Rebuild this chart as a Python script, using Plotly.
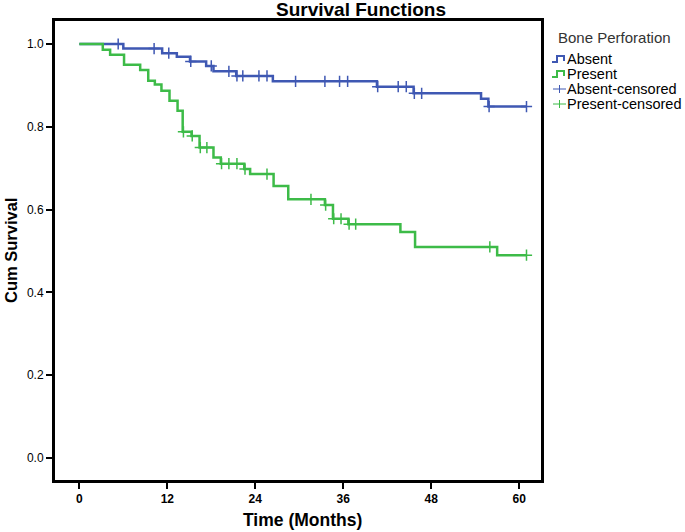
import numpy as np
import plotly.graph_objects as go

# Kaplan-Meier step data (time in months, cumulative survival)
absent_t = [0, 6.0, 11.3, 13.3, 15.1, 17.3, 18.3, 21.4, 26.4, 40.6, 45.6, 54.8, 55.8, 61.0]
absent_s = [1.0, 0.989, 0.978, 0.969, 0.958, 0.947, 0.934, 0.923, 0.910, 0.897, 0.881, 0.868, 0.849, 0.849]
absent_cens = [5.3, 10.2, 12.2, 15.2, 18.0, 20.4, 21.5, 22.3, 24.5, 25.6, 29.5, 33.5, 35.5, 36.6,
               40.7, 43.5, 44.6, 45.7, 46.7, 55.9, 61.0]

present_t = [0, 3.2, 4.2, 6.1, 8.3, 9.4, 10.3, 11.2, 12.3, 13.4, 14.1, 15.3, 16.4, 18.3, 19.3,
             22.5, 23.3, 26.5, 28.5, 33.5, 34.6, 36.7, 43.8, 45.8, 57.0, 61.0]
present_s = [1.0, 0.986, 0.974, 0.950, 0.937, 0.911, 0.902, 0.887, 0.863, 0.839, 0.788, 0.778,
             0.750, 0.726, 0.711, 0.698, 0.686, 0.657, 0.625, 0.611, 0.578, 0.565, 0.546, 0.510,
             0.490, 0.490]
present_cens = [14.2, 15.4, 16.5, 17.4, 19.4, 20.4, 21.5, 22.6, 25.6, 31.6, 33.6, 34.7, 35.7,
                36.8, 37.7, 56.0, 61.0]

x_ticks = [0, 12, 24, 36, 48, 60]
y_ticks = [0.0, 0.2, 0.4, 0.6, 0.8, 1.0]
legend_title = "Bone Perforation"
legend_labels = ["Absent", "Present", "Absent-censored", "Present-censored"]

BLUE = "#3f58b3"
GREEN = "#3dbb48"
FONT = "Liberation Sans, Arial, sans-serif"

# plot area in pixels
W, H = 685, 532
L, R, T, B = 55, 541, 21, 480


def px(xp):
    return (xp - L) / (R - L)


def py(yp):
    return (B - yp) / (B - T)


def step_at(ts, ss, q):
    idx = np.searchsorted(np.array(ts), np.array(q), side="right") - 1
    return [ss[i] for i in idx]


fig = go.Figure()
fig.add_trace(go.Scatter(x=absent_t, y=absent_s, mode="lines", line=dict(color=BLUE, width=2.5, shape="hv"),
                         name=legend_labels[0], showlegend=False))
fig.add_trace(go.Scatter(x=present_t, y=present_s, mode="lines", line=dict(color=GREEN, width=2.5, shape="hv"),
                         name=legend_labels[1], showlegend=False))
fig.add_trace(go.Scatter(x=absent_cens, y=step_at(absent_t, absent_s, absent_cens), mode="markers",
                         marker=dict(symbol="cross-thin", size=8, line=dict(color=BLUE, width=1.5)),
                         name=legend_labels[2], showlegend=False))
fig.add_trace(go.Scatter(x=present_cens, y=step_at(present_t, present_s, present_cens), mode="markers",
                         marker=dict(symbol="cross-thin", size=8, line=dict(color=GREEN, width=1.5)),
                         name=legend_labels[3], showlegend=False))

annotations = []
shapes = []
# title
annotations.append(dict(text="<b>Survival Functions</b>", xref="paper", yref="paper",
                        x=px(361), y=py(9), xanchor="center", yanchor="middle", showarrow=False,
                        font=dict(size=19, color="#000")))
# axis titles
annotations.append(dict(text="<b>Time (Months)</b>", xref="paper", yref="paper",
                        x=px(302), y=py(520), xanchor="center", yanchor="middle", showarrow=False,
                        font=dict(size=17.5, color="#000")))
annotations.append(dict(text="<b>Cum Survival</b>", xref="paper", yref="paper", textangle=-90,
                        x=px(11), y=py(251), xanchor="center", yanchor="middle", showarrow=False,
                        font=dict(size=16.5, color="#000")))
# legend
annotations.append(dict(text=legend_title, xref="paper", yref="paper", x=px(556), y=py(37),
                        xanchor="left", yanchor="middle", showarrow=False,
                        font=dict(size=15, color="#333")))
item_y = [59, 74, 89, 104]
item_col = [BLUE, GREEN, BLUE, GREEN]
for i, (lab, yy, col) in enumerate(zip(legend_labels, item_y, item_col)):
    annotations.append(dict(text=lab, xref="paper", yref="paper", x=px(565), y=py(yy),
                            xanchor="left", yanchor="middle", showarrow=False,
                            font=dict(size=14.5, color="#000")))
    if i < 2:
        path = (f"M {px(552)} {py(yy + 3)} L {px(557)} {py(yy + 3)} L {px(557)} {py(yy - 3)} "
                f"L {px(564)} {py(yy - 3)} L {px(564)} {py(yy + 2)}")
        shapes.append(dict(type="path", xref="paper", yref="paper", path=path,
                           line=dict(color=col, width=2)))
    else:
        shapes.append(dict(type="line", xref="paper", yref="paper", x0=px(553), x1=px(566),
                           y0=py(yy), y1=py(yy), line=dict(color=col, width=1)))
        shapes.append(dict(type="line", xref="paper", yref="paper", x0=px(559.5), x1=px(559.5),
                           y0=py(yy - 4), y1=py(yy + 4), line=dict(color=col, width=1)))

fig.update_layout(
    width=W, height=H,
    margin=dict(l=L, r=W - R, t=T, b=H - B, autoexpand=False),
    paper_bgcolor="white", plot_bgcolor="white",
    font=dict(family=FONT, color="#000"),
    showlegend=False,
    annotations=annotations,
    shapes=shapes,
)
fig.update_xaxes(range=[-3.32, 62.98], tickvals=x_ticks, ticktext=[str(v) for v in x_ticks],
                 showgrid=False, zeroline=False, showline=True, linecolor="#000", linewidth=3, mirror=True,
                 ticks="outside", ticklen=6, tickwidth=1.5, tickcolor="#000", automargin=False,
                 tickfont=dict(size=12, weight="bold"))
fig.update_yaxes(range=[-0.053, 1.0556], tickvals=y_ticks, ticktext=[f"{v:.1f}" for v in y_ticks],
                 showgrid=False, zeroline=False, showline=True, linecolor="#000", linewidth=3, mirror=True,
                 ticks="outside", ticklen=6, tickwidth=1.5, tickcolor="#000", automargin=False,
                 tickfont=dict(size=12))

fig.write_html("out.html", config={"displayModeBar": False},
               post_script="document.body.style.margin='0';document.body.style.overflow='hidden';")
